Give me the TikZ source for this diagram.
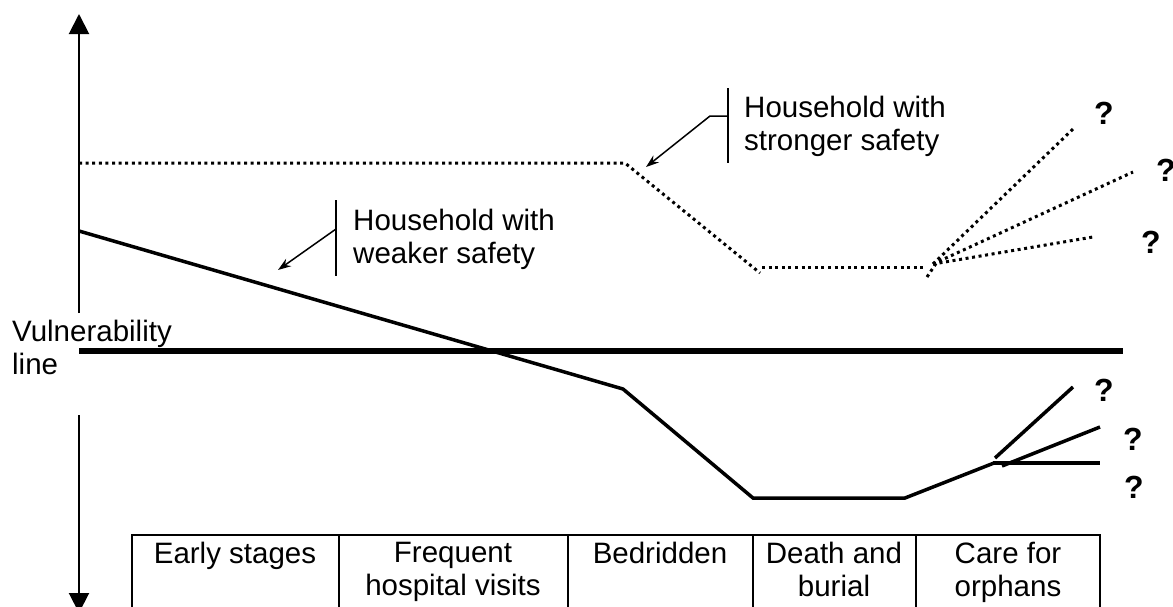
\documentclass[tikz,border=0pt]{standalone}
\usepackage{fontspec}
\setmainfont{Liberation Sans}
\usetikzlibrary{arrows.meta}
\begin{document}
\begin{tikzpicture}[x=1pt,y=-1pt,
  lbl/.style={inner sep=0pt, font=\fontsize{29.5}{33}\selectfont, align=left, anchor=north west},
  cell/.style={inner sep=0pt, font=\fontsize{29.5}{33}\selectfont, align=center, anchor=north},
  qm/.style={inner sep=0pt, font=\fontsize{32}{36}\selectfont\bfseries},
  axis/.style={line width=2pt, -{Triangle[length=20pt,width=20pt]}},
  solidpath/.style={line width=3.5pt, line join=miter},
  dotpath/.style={line width=3pt, dash pattern=on 3pt off 3.6pt},
  vulnline/.style={line width=6pt},
  bar/.style={line width=1.5pt},
  pointer/.style={line width=1.5pt, -{Stealth[length=13pt,width=9pt]}},
  gridline/.style={line width=1.5pt}
]
\useasboundingbox (0,0) rectangle (1173,606);
\clip (0,0) rectangle (1173,606);

% axis
\coordinate (axU0) at (79,313);
\coordinate (axU1) at (79,14);
\coordinate (axD0) at (79,415);
\coordinate (axD1) at (79,613);
\draw[axis] (axU0) -- (axU1);
\draw[axis] (axD0) -- (axD1);

% vulnerability line
\coordinate (v0) at (79,351);
\coordinate (v1) at (1123,351);
\draw[vulnline] (v0) -- (v1);
\node[lbl] (vlab) at (12,320) {Vulnerability\\line};

% weaker safety (solid)
\coordinate (s0) at (79,231);
\coordinate (s1) at (623,389);
\coordinate (s2) at (753,498);
\coordinate (s3) at (905,498);
\coordinate (s4) at (994,463);
\draw[solidpath] (s0) -- (s1) -- (s2) -- (s3) -- (s4);
\coordinate (sa0) at (995,458);
\coordinate (sa1) at (1073,387);
\coordinate (sb0) at (1002,466);
\coordinate (sb1) at (1100,427);
\coordinate (sc0) at (993,463);
\coordinate (sc1) at (1100,463);
\draw[solidpath] (sa0) -- (sa1);
\draw[solidpath] (sb0) -- (sb1);
\draw[solidpath] (sc0) -- (sc1);
\node[qm] (sq1) at (1104,390) {?};
\node[qm] (sq2) at (1133,439) {?};
\node[qm] (sq3) at (1134,487) {?};

% stronger safety (dotted)
\coordinate (d0) at (79,163);
\coordinate (d1) at (625,163);
\coordinate (d2) at (760,273);
\coordinate (d3) at (762,267);
\coordinate (d4) at (927,267);
\coordinate (dt0) at (927,277);
\coordinate (dt1) at (937,262);
\coordinate (df) at (933,264);
\coordinate (dfa) at (1073,129);
\coordinate (dfb) at (1133,172);
\coordinate (dfc) at (1093,237);
\draw[dotpath] (d0) -- (d1) -- (d2);
\draw[dotpath] (d3) -- (d4);
\draw[dotpath] (dt0) -- (dt1);
\draw[dotpath] (df) -- (dfa);
\draw[dotpath] (df) -- (dfb);
\draw[dotpath] (df) -- (dfc);
\node[qm] (dq1) at (1104,113) {?};
\node[qm] (dq2) at (1166,170) {?};
\node[qm] (dq3) at (1151,242) {?};

% annotation: stronger
\coordinate (bs0) at (728,88);
\coordinate (bs1) at (728,163);
\coordinate (es0) at (728,116);
\coordinate (es1) at (710,116);
\coordinate (ts) at (646,167);
\draw[bar] (bs0) -- (bs1);
\draw[pointer] (es0) -- (es1) -- (ts);
\node[lbl] (stronglab) at (744,96) {Household with\\stronger safety};

% annotation: weaker
\coordinate (bw0) at (336,200);
\coordinate (bw1) at (336,276);
\coordinate (ew0) at (336,229);
\coordinate (tw) at (278,270);
\draw[bar] (bw0) -- (bw1);
\draw[pointer] (ew0) -- (tw);
\node[lbl] (weaklab) at (353,209) {Household with\\weaker safety};

% stage table
\coordinate (g0) at (132,620);
\coordinate (g1) at (132,535);
\coordinate (g2) at (1100,535);
\coordinate (g3) at (1100,620);
\draw[gridline] (g0) -- (g1) -- (g2) -- (g3);
\foreach \xx in {339,568,753,916} {
  \draw[gridline] (\xx,535) -- (\xx,620);
}
\node[cell] (c1) at (235,542) {Early stages};
\node[cell] (c2) at (453,542) {Frequent\\hospital visits};
\node[cell] (c3) at (660,542) {Bedridden};
\node[cell] (c4) at (834,542) {Death and\\burial};
\node[cell] (c5) at (1008,542) {Care for\\orphans};
\end{tikzpicture}
\end{document}
